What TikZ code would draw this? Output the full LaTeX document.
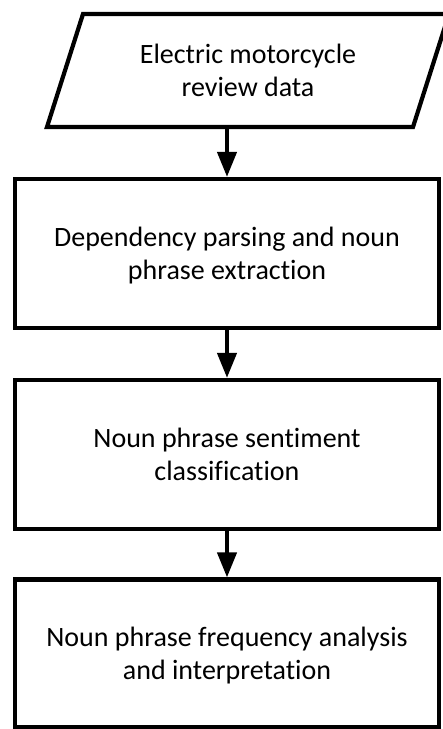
\documentclass[tikz,border=0pt]{standalone}
\usepackage{fontspec}
\setmainfont{Carlito}[RawFeature={-liga}]
\usetikzlibrary{arrows.meta}
\begin{document}
\begin{tikzpicture}[x=1pt,y=-1pt,
  lw/.style={line width=4.2pt},
  txt/.style={align=center, font=\fontsize{28}{33}\selectfont, text depth=0pt, inner sep=0pt},
  stepbox/.style={draw, lw, txt, minimum width=424pt, minimum height=149pt},
  flow/.style={lw, -{Triangle[width=19pt,length=25pt]}}]
\useasboundingbox (0,0) rectangle (443,729);
\draw[lw, line join=miter] (83,14) -- (449,14) -- (413,127) -- (47,127) -- cycle;
\node[txt, minimum height=113pt, outer sep=0pt] (data) at (248,70.5) {Electric motorcycle\\review data};
\node[stepbox] (parse) at (227,253.5) {Dependency parsing and noun\\phrase extraction};
\node[stepbox] (sent) at (227,454.5) {Noun phrase sentiment\\classification};
\node[stepbox, minimum height=148pt] (freq) at (227,653.5) {Noun phrase frequency analysis\\and interpretation};
\draw[flow] (data.south -| parse.north) -- (parse.north);
\draw[flow] (parse.south) -- (sent.north);
\draw[flow] (sent.south) -- (freq.north);
\end{tikzpicture}
\end{document}
